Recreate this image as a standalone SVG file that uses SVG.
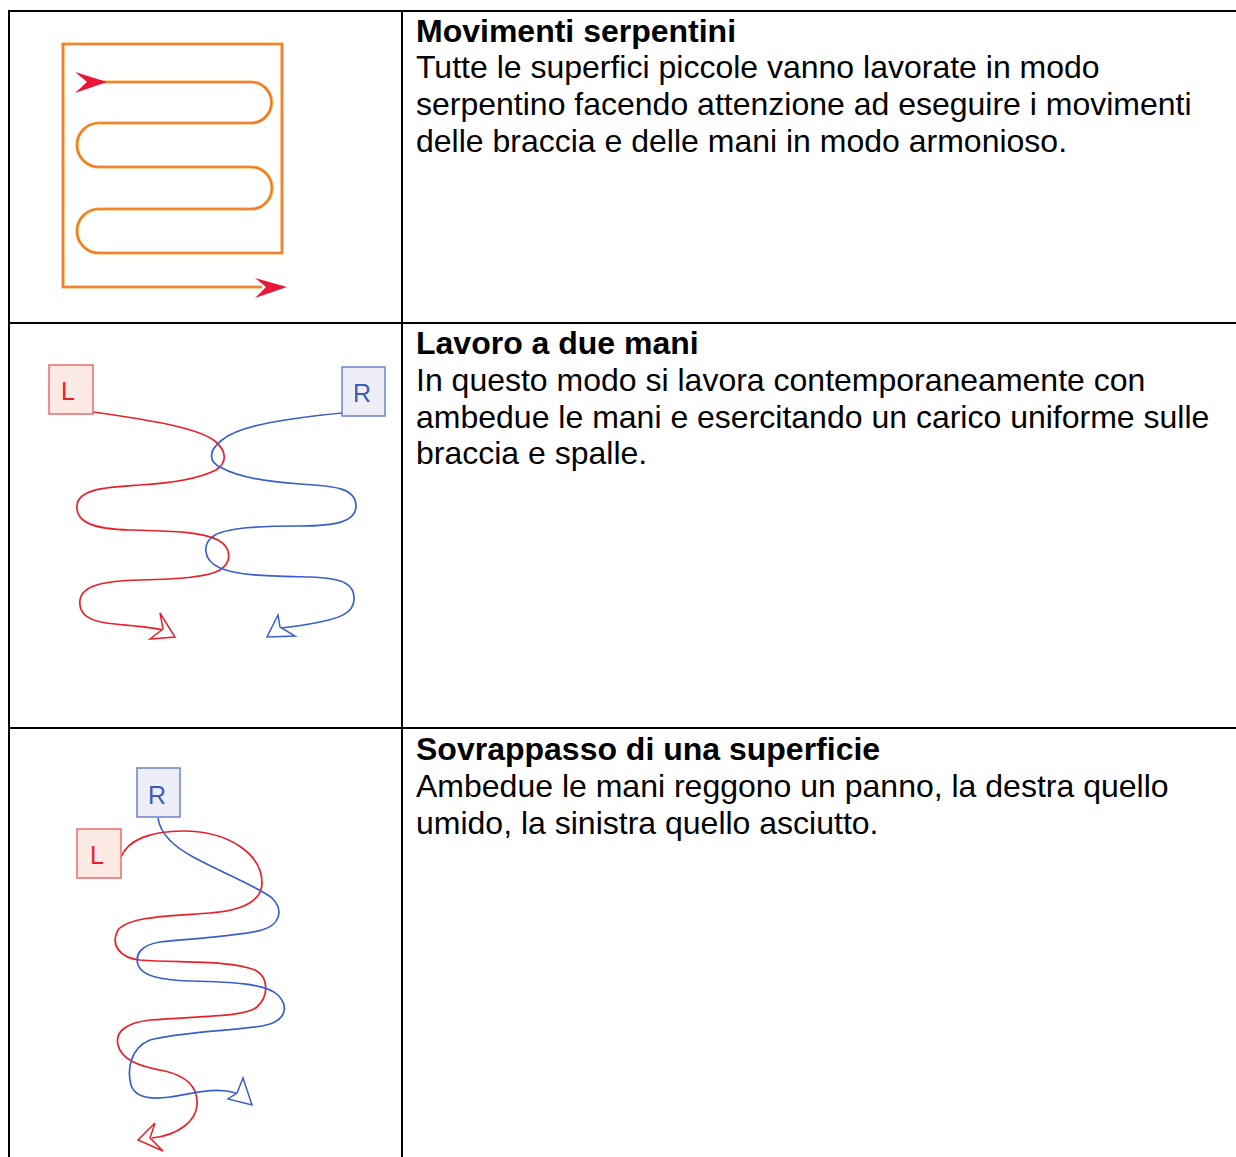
<svg xmlns="http://www.w3.org/2000/svg" width="1236" height="1157" viewBox="0 0 1236 1157">
<style>
.grid{stroke:#000;stroke-width:2;fill:none}
.t{font-family:"Liberation Sans",Arial,sans-serif;font-size:32px;fill:#000}
.b{font-weight:bold}
.or1{fill:none;stroke:#f7a535;stroke-width:3.2;stroke-linejoin:miter}
.or2{fill:none;stroke:#e8623a;stroke-width:1.1;stroke-linejoin:miter}
.dart{fill:#e8173a;stroke:none}
.red{fill:none;stroke:#e8202a;stroke-width:1.7}
.blue{fill:none;stroke:#3a5fc8;stroke-width:1.7}
.rhead{fill:#fff;stroke:#e8202a;stroke-width:1.5;stroke-linejoin:miter}
.bhead{fill:#fff;stroke:#3a5fc8;stroke-width:1.5;stroke-linejoin:miter}
.lbox{fill:#fbe9e3;stroke:#ec6b6b;stroke-width:1.5}
.rbox{fill:#eeeef8;stroke:#6b83cf;stroke-width:1.5}
.lt{font-family:"Liberation Sans",Arial,sans-serif;font-size:25px;fill:#e8202a;text-anchor:middle}
.rt{font-family:"Liberation Sans",Arial,sans-serif;font-size:25px;fill:#3a5bbf;text-anchor:middle}
</style>
<rect width="1236" height="1157" fill="#fff"/>
<g id="table">
<line class="grid" x1="9" y1="10" x2="9" y2="1157"/>
<line class="grid" x1="8" y1="11" x2="1236" y2="11"/>
<line class="grid" x1="402" y1="11" x2="402" y2="1157"/>
<line class="grid" x1="8" y1="323" x2="1236" y2="323"/>
<line class="grid" x1="8" y1="728" x2="1236" y2="728"/>
</g>
<g id="text-row1">
<text class="t b" x="416" y="42">Movimenti serpentini</text>
<text class="t" x="416" y="78">Tutte le superfici piccole vanno lavorate in modo</text>
<text class="t" x="416" y="115">serpentino facendo attenzione ad eseguire i movimenti</text>
<text class="t" x="416" y="152">delle braccia e delle mani in modo armonioso.</text>
</g>
<g id="text-row2">
<text class="t b" x="416" y="354">Lavoro a due mani</text>
<text class="t" x="416" y="391">In questo modo si lavora contemporaneamente con</text>
<text class="t" x="416" y="428">ambedue le mani e esercitando un carico uniforme sulle</text>
<text class="t" x="416" y="464">braccia e spalle.</text>
</g>
<g id="text-row3">
<text class="t b" x="416" y="760">Sovrappasso di una superficie</text>
<text class="t" x="416" y="797">Ambedue le mani reggono un panno, la destra quello</text>
<text class="t" x="416" y="834">umido, la sinistra quello asciutto.</text>
</g>
<g id="connectors">
<g id="serpentine">
<path class="or1" d="M 90 82 H 251 A 20.5 20.5 0 0 1 251 123 H 99 A 22 22 0 0 0 99 167 H 251 A 21 21 0 0 1 251 209 H 99 A 22 22 0 0 0 99 253 H 282 V 44 H 63 V 287 H 262"/>
<path class="or2" d="M 90 82 H 251 A 20.5 20.5 0 0 1 251 123 H 99 A 22 22 0 0 0 99 167 H 251 A 21 21 0 0 1 251 209 H 99 A 22 22 0 0 0 99 253 H 282 V 44 H 63 V 287 H 262"/>
<polygon class="dart" points="75,72 107,82 75,93 87,82"/>
<polygon class="dart" points="255,278 287,287 255,298 266,287"/>
</g>
<g id="two-hands">
<path class="red" d="M 93 412 C 150 420, 200 428, 216 442 C 226 451, 228 462, 216 470 C 200 478, 175 483, 140 485 C 110 487, 79 488, 77 505 C 75 523, 95 529, 130 530 C 165 531, 200 531, 218 540 C 232 548, 232 562, 220 570 C 208 577, 180 579, 140 580 C 105 581, 82 585, 80 600 C 78 615, 90 622, 115 624 C 135 626, 150 627, 163 630"/>
<polygon class="rhead" points="160,613 175,637 150,639 163,629"/>
<path class="blue" d="M 342 413 C 290 418, 240 425, 222 440 C 208 451, 208 462, 222 468 C 240 478, 270 482, 300 484 C 335 486, 355 488, 356 505 C 357 522, 335 526, 300 526 C 265 526, 230 527, 215 535 C 202 543, 202 560, 220 568 C 240 576, 270 576, 310 577 C 345 578, 355 585, 354 600 C 353 613, 340 618, 320 622 C 305 625, 292 627, 281 628"/>
<polygon class="bhead" points="278,615 267,637 295,636 280,627"/>
</g>
<g id="overlap">
<path class="red" d="M 121 857 C 128 840, 150 831, 183 831 C 230 831, 262 855, 262 883 C 262 900, 245 910, 210 913 C 170 916, 130 916, 118 930 C 110 945, 120 958, 140 960 C 180 963, 230 960, 255 970 C 270 978, 268 997, 257 1007 C 245 1017, 200 1016, 150 1020 C 125 1023, 115 1032, 118 1045 C 121 1058, 135 1066, 165 1071 C 190 1077, 198 1090, 197 1105 C 196 1120, 180 1135, 152 1138"/>
<polygon class="rhead" points="155,1123 138,1140 163,1151 150,1138"/>
<path class="blue" d="M 158 818 C 160 832, 170 845, 195 858 C 225 874, 260 888, 272 898 C 284 910, 280 925, 262 930 C 240 936, 200 938, 160 942 C 140 945, 135 955, 138 965 C 142 976, 160 980, 190 981 C 230 982, 265 983, 278 995 C 290 1008, 285 1022, 262 1026 C 230 1031, 180 1032, 150 1040 C 130 1048, 127 1070, 131 1085 C 135 1097, 150 1100, 170 1097 C 195 1093, 215 1087, 236 1093"/>
<polygon class="bhead" points="243,1078 252,1105 228,1099 237,1093"/>
</g>
</g>
<g id="node-L1">
<rect class="lbox" x="49" y="365" width="44" height="49"/>
<text class="lt" x="68" y="400">L</text>
</g>
<g id="node-R1">
<rect class="rbox" x="342" y="367" width="43" height="49"/>
<text class="rt" x="362" y="402">R</text>
</g>
<g id="node-R2">
<rect class="rbox" x="137" y="768" width="43" height="49"/>
<text class="rt" x="157" y="804">R</text>
</g>
<g id="node-L2">
<rect class="lbox" x="77" y="829" width="44" height="49"/>
<text class="lt" x="97" y="864">L</text>
</g>
</svg>
